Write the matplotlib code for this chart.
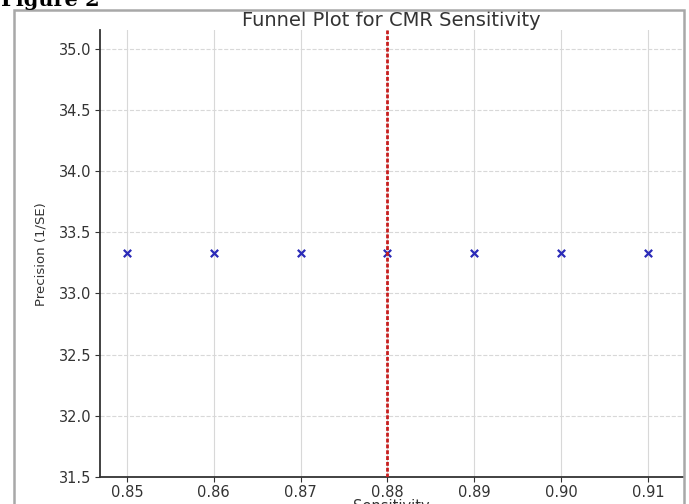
import numpy as np
import matplotlib
matplotlib.use('Agg')
import matplotlib.pyplot as plt
from matplotlib.patches import Rectangle

# dati
sensibilita = [0.85, 0.86, 0.87, 0.88, 0.89, 0.90, 0.91]
precisione = [33.33, 33.33, 33.33, 33.33, 33.33, 33.33, 33.33]
media_sens = 0.88
y_ticks = [31.5, 32.0, 32.5, 33.0, 33.5, 34.0, 34.5, 35.0]

fig = plt.figure(figsize=(6.89, 5.04), dpi=100)
fig.patch.set_facecolor('white')

# cornice grigia dell'immagine
fig.patches.append(Rectangle((0.0203, -0.05), 0.972, 1.03, transform=fig.transFigure,
                             fill=False, edgecolor='#a8a8a8', linewidth=1.8, zorder=0))

fig.text(0.002, 0.988, 'Figure 2', fontsize=15, fontweight='bold', family='DejaVu Serif',
         ha='left', va='baseline')

ax = fig.add_axes([0.145, 0.0536, 0.846, 0.886])
ax.scatter(sensibilita, precisione, marker='x', color='#2b2bb8', s=28, linewidths=1.6, zorder=3)
ax.axvline(media_sens, color='#c81e1e', linewidth=2.0, dashes=(1.4, 0.7), zorder=4)

ax.set_xlim(0.8469, 0.914)
ax.set_ylim(31.5, 35.15)
ax.set_xticks(sensibilita)
ax.set_xticklabels([f'{v:.2f}' for v in sensibilita])
ax.set_yticks(y_ticks)
ax.set_yticklabels([f'{v:.1f}' for v in y_ticks])

ax.grid(axis='x', color='#d8d8d8', linestyle='-', linewidth=0.8)
ax.grid(axis='y', color='#d8d8d8', linestyle='--', linewidth=0.8)
ax.set_axisbelow(True)

for s in ['top', 'right']:
    ax.spines[s].set_visible(False)
for s in ['left', 'bottom']:
    ax.spines[s].set_color('#333333')
    ax.spines[s].set_linewidth(1.3)

ax.tick_params(axis='both', labelsize=10.5, colors='#333333', labelcolor='#333333', length=3.5, pad=2.5)

ax.set_title('Funnel Plot for CMR Sensitivity', fontsize=14, color='#333333', pad=2)
ax.set_xlabel('Sensitivity', fontsize=10.5, color='#333333', labelpad=-1)
ax.set_ylabel('Precision (1/SE)', fontsize=9.5, color='#333333', family='Liberation Sans Narrow', labelpad=8)

plt.savefig('out.png', dpi=100)
